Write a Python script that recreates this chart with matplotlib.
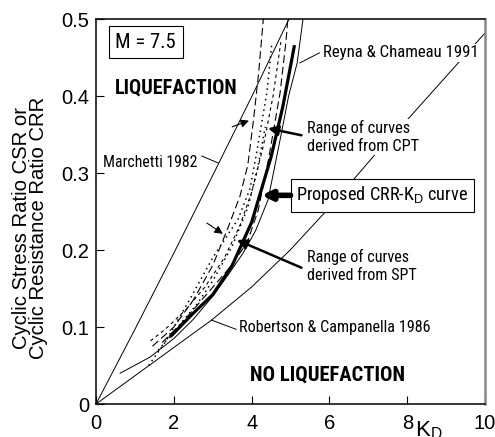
import numpy as np
import matplotlib
matplotlib.use("Agg")
import matplotlib.pyplot as plt
from matplotlib import font_manager

plt.rcParams['font.family'] = ['Liberation Sans', 'DejaVu Sans']
plt.rcParams['mathtext.fontset'] = 'custom'
plt.rcParams['mathtext.rm'] = 'Liberation Sans'

# notes in the original use a narrow Arial; take a narrow face if one is installed
names = {f.name for f in font_manager.fontManager.ttflist}
narrow = 'Liberation Sans'
for cand in ['Liberation Sans Narrow', 'Arial Narrow', 'Roboto Condensed',
             'Open Sans Condensed']:
    if cand in names:
        narrow = cand
        break

# ---------------- data ----------------
# proposed CRR-KD curve (thick)
kd_prop = [1.9, 2.0, 2.5, 3.0, 3.5, 4.0, 4.5, 4.8, 5.0, 5.1]
crr_prop = [0.087, 0.092, 0.118, 0.142, 0.180, 0.236, 0.321, 0.386, 0.439, 0.466]

# Marchetti 1982
kd_march = [0.0, 1.0, 2.0, 3.0, 4.0, 4.96]
crr_march = [0.0, 0.097, 0.196, 0.297, 0.399, 0.5]

# Robertson & Campanella 1986 / Reyna & Chameau 1991 (long line)
kd_long = [0.0, 2.97, 4.0, 4.99, 5.94, 6.61, 7.12, 8.07, 10.0]
crr_long = [0.0, 0.109, 0.152, 0.200, 0.252, 0.291, 0.321, 0.373, 0.482]

# thin solid curve right of the proposed one
kd_thin = [0.62, 1.39, 2.0, 2.5, 3.0, 3.4, 3.78, 4.1, 4.42, 4.73, 4.95, 5.17, 5.32]
crr_thin = [0.040, 0.061, 0.085, 0.110, 0.140, 0.168, 0.196, 0.225, 0.265, 0.343, 0.400, 0.443, 0.500]

# range of curves (dashed)
kd_dash1 = [1.45, 2.0, 2.5, 3.0, 3.4, 3.7, 3.9, 4.05, 4.18, 4.30]
crr_dash1 = [0.075, 0.100, 0.135, 0.180, 0.230, 0.270, 0.310, 0.370, 0.430, 0.500]
kd_dash2 = [1.7, 2.2, 2.8, 3.4, 3.88, 4.17, 4.43, 4.73, 4.88, 4.93]
crr_dash2 = [0.080, 0.105, 0.140, 0.175, 0.209, 0.252, 0.317, 0.404, 0.470, 0.500]
kd_dash3 = [1.4, 1.8, 2.3, 2.8, 3.3, 3.7, 4.0, 4.3, 4.55, 4.75]
crr_dash3 = [0.082, 0.098, 0.122, 0.152, 0.190, 0.232, 0.275, 0.335, 0.400, 0.470]

# range of curves (dotted)
kd_dot1 = [1.35, 1.8, 2.4, 3.0, 3.65, 3.96, 4.14, 4.39, 4.52]
crr_dot1 = [0.050, 0.082, 0.135, 0.190, 0.240, 0.280, 0.330, 0.404, 0.469]
kd_dot2 = [1.6, 2.1, 2.6, 3.0, 3.5, 3.9, 4.15, 4.35]
crr_dot2 = [0.070, 0.100, 0.130, 0.160, 0.205, 0.255, 0.305, 0.360]

x_ticks = [0, 2, 4, 6, 8, 10]
y_ticks = [0, 0.1, 0.2, 0.3, 0.4, 0.5]
y_tick_labels = ['0', '0.1', '0.2', '0.3', '0.4', '0.5']

# ---------------- figure ----------------
DPI = 100
fig = plt.figure(figsize=(4.95, 4.37), dpi=DPI)
ax = fig.add_axes([0.194, 0.0755, 0.786, 0.881])

ax.plot(kd_march, crr_march, 'k-', lw=0.7)
ax.plot(kd_long, crr_long, 'k-', lw=0.7)
ax.plot(kd_thin, crr_thin, 'k-', lw=0.7)
for xs, ys in [(kd_dash1, crr_dash1), (kd_dash2, crr_dash2)]:
    ax.plot(xs, ys, 'k--', lw=0.8, dashes=(7, 3.5))
ax.plot(kd_dash3, crr_dash3, 'k--', lw=0.8, dashes=(3, 3))
for xs, ys in [(kd_dot1, crr_dot1), (kd_dot2, crr_dot2)]:
    ax.plot(xs, ys, 'k:', lw=1.1, dashes=(1, 2.5))
ax.plot(kd_prop, crr_prop, 'k-', lw=2.3, solid_capstyle='butt')

ax.set_xlim(0, 10)
ax.set_ylim(0, 0.5)
ax.set_xticks(x_ticks)
ax.set_xticklabels([str(t) for t in x_ticks])
ax.set_yticks(y_ticks)
ax.set_yticklabels(y_tick_labels)
ax.tick_params(direction='in', length=6, width=0.8, labelsize=14.5, pad=5)
ax.tick_params(axis='x', pad=7)
for s in ['left', 'bottom', 'top']:
    ax.spines[s].set_linewidth(1.1)
ax.spines['right'].set_color('#888888')
ax.spines['right'].set_linewidth(1.8)

ylab = fig.text(0.0606, 0.478, 'Cyclic Stress Ratio CSR or\nCyclic Resistance Ratio CRR',
                rotation=90, ha='center', va='center', fontsize=14.6,
                linespacing=0.92)
ax.text(8.55, -0.02, 'K$_\\mathrm{D}$', fontsize=16, ha='center', va='top',
        clip_on=False)

wbg = dict(facecolor='white', edgecolor='none', pad=1)
notes = []  # (text, width in pixels in the original)

t = ax.text(0.5, 0.47, 'M = 7.5', fontsize=13, family=narrow, va='center',
            bbox=dict(boxstyle='square,pad=0.32', facecolor='white',
                      edgecolor='black', lw=0.8))
notes.append((t, 60))
t = ax.text(0.49, 0.41, 'LIQUEFACTION', fontsize=13, fontweight='bold',
            family=narrow, va='center')
notes.append((t, 123))
t = ax.text(3.96, 0.038, 'NO LIQUEFACTION', fontsize=13, fontweight='bold',
            family=narrow, va='center')
notes.append((t, 155))

t = ax.text(0.18, 0.314, 'Marchetti 1982', fontsize=11, family=narrow, va='center')
notes.append((t, 94))
ax.plot([2.72, 3.14], [0.322, 0.313], 'k-', lw=0.7)

t = ax.text(5.84, 0.456, 'Reyna & Chameau 1991', fontsize=11, family=narrow,
            va='center', bbox=wbg)
notes.append((t, 155))
ax.plot([5.74, 5.24], [0.456, 0.443], 'k-', lw=0.7)

t = ax.text(5.42, 0.347, 'Range of curves\nderived from CPT', fontsize=11,
            family=narrow, va='center', bbox=wbg)
notes.append((t, 112))
ax.annotate('', xy=(4.42, 0.358), xytext=(5.28, 0.349),
            arrowprops=dict(arrowstyle='-|>', lw=1.8, color='k',
                            mutation_scale=15, shrinkA=0, shrinkB=0))

t = ax.text(5.15, 0.271, 'Proposed CRR-K$_\\mathrm{D}$ curve', fontsize=11,
            family=narrow, va='center',
            bbox=dict(boxstyle='square,pad=0.3', facecolor='white',
                      edgecolor='black', lw=0.8))
notes.append((t, 172))
ax.annotate('', xy=(4.26, 0.271), xytext=(5.0, 0.271),
            arrowprops=dict(arrowstyle='-|>', lw=4, color='k',
                            mutation_scale=14, shrinkA=0, shrinkB=0))

t = ax.text(5.42, 0.179, 'Range of curves\nderived from SPT', fontsize=11,
            family=narrow, va='center', bbox=wbg)
notes.append((t, 110))
ax.annotate('', xy=(3.62, 0.213), xytext=(5.28, 0.177),
            arrowprops=dict(arrowstyle='-|>', lw=1.8, color='k',
                            mutation_scale=15, shrinkA=0, shrinkB=0))

t = ax.text(3.68, 0.099, 'Robertson & Campanella 1986', fontsize=11,
            family=narrow, va='center')
notes.append((t, 192))
ax.plot([3.6, 2.97], [0.097, 0.109], 'k-', lw=0.7)

# small arrows marking the range
ax.annotate('', xy=(3.93, 0.368), xytext=(3.5, 0.360),
            arrowprops=dict(arrowstyle='-|>', lw=0.8, color='k',
                            mutation_scale=12, shrinkA=0, shrinkB=0))
ax.annotate('', xy=(3.26, 0.221), xytext=(2.85, 0.235),
            arrowprops=dict(arrowstyle='-|>', lw=0.8, color='k',
                            mutation_scale=12, shrinkA=0, shrinkB=0))

# size the notes so they are as wide as in the original
fig.canvas.draw()
rend = fig.canvas.get_renderer()
for t, width_px in notes:
    bb = t.get_bbox_patch()
    t.set_bbox(None)
    w = t.get_window_extent(rend).width
    fs = t.get_fontsize() * width_px / w
    t.set_fontsize(fs)
    if '\n' in t.get_text():
        t.set_linespacing(20.0 / (fs * DPI / 72.0))
    if bb is not None:
        t.set_bbox(dict(boxstyle=bb.get_boxstyle(), facecolor=bb.get_facecolor(),
                        edgecolor=bb.get_edgecolor(), lw=bb.get_linewidth()))

fig.savefig('out.png', dpi=DPI)
